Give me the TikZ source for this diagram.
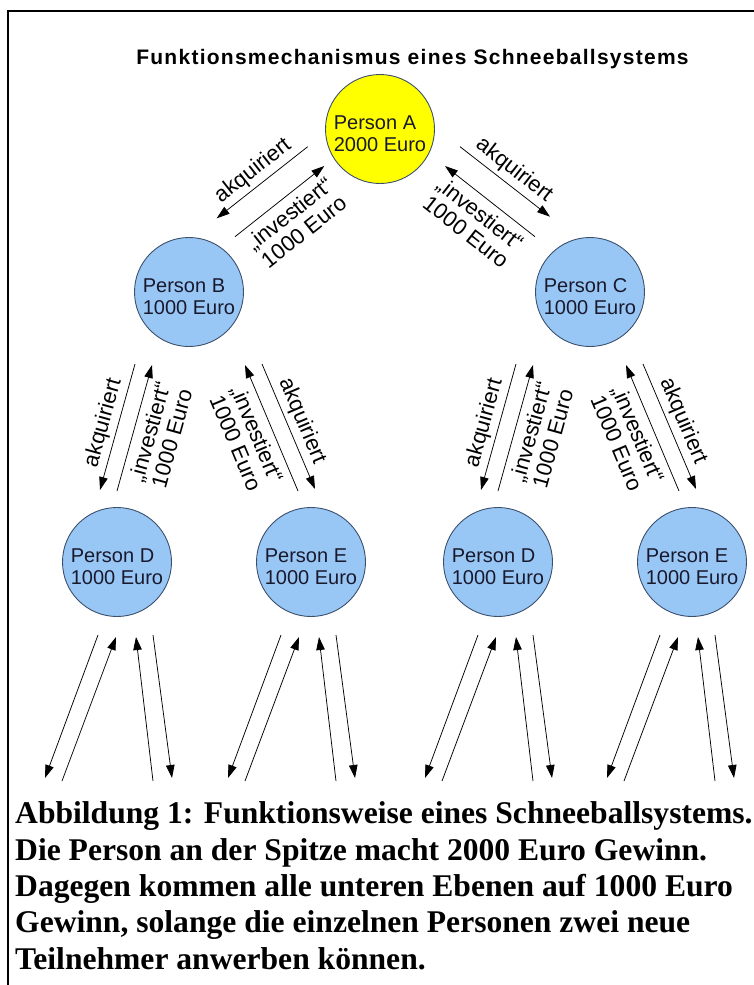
\documentclass[tikz,border=0pt]{standalone}
\usepackage{fontspec}
\setmainfont{Liberation Sans}
\newfontfamily\capfont{Liberation Serif}
\newfontfamily\titlefont[LetterSpace=6]{Liberation Sans}
\usetikzlibrary{arrows.meta}
\definecolor{pblue}{RGB}{153,199,245}
\definecolor{pyellow}{RGB}{255,255,0}
\definecolor{pedge}{RGB}{60,80,110}
\definecolor{ptext}{RGB}{25,25,45}
\tikzset{
  person/.style={circle, draw=pedge, line width=0.9pt, minimum size=109pt, inner sep=0pt,
    text=ptext, align=left, font=\fontsize{20pt}{22pt}\selectfont},
  arr/.style={draw=black, line width=0.75pt, -{Triangle[length=13pt,width=8.5pt]}},
  akq/.style={sloped, above, inner sep=4pt, font=\fontsize{22pt}{23pt}\selectfont},
  inv/.style={sloped, below, inner sep=7pt, align=center, font=\fontsize{22pt}{23pt}\selectfont},
  titlestyle/.style={anchor=base, inner sep=0pt, font=\titlefont\bfseries\fontsize{21pt}{24pt}\selectfont},
  capline/.style={anchor=base west, inner sep=0pt, font=\capfont\bfseries\fontsize{31.6pt}{36pt}\selectfont},
}
\begin{document}
\begin{tikzpicture}[x=1pt,y=-1pt]
\useasboundingbox (0,0) rectangle (754,985);
\fill[white] (0,0) rectangle (754,985);
\draw[line width=2.7pt] (756,11) -- (8,11) -- (8,987);

\node[titlestyle] (T) at (412.5,64.5) {Funktionsmechanismus eines Schneeballsystems};

% persons
\node[person, fill=pyellow] (A) at (380,129) {\rule{0pt}{24pt}Person A\\2000 Euro};
\node[person, fill=pblue] (B) at (189,292) {\rule{0pt}{24pt}Person B\\1000 Euro};
\node[person, fill=pblue] (C) at (590,292) {\rule{0pt}{24pt}Person C\\1000 Euro};
\node[person, fill=pblue] (D1) at (117,562) {\rule{0pt}{24pt}Person D\\1000 Euro};
\node[person, fill=pblue] (E1) at (311,562) {\rule{0pt}{24pt}Person E\\1000 Euro};
\node[person, fill=pblue] (D2) at (498,562) {\rule{0pt}{24pt}Person D\\1000 Euro};
\node[person, fill=pblue] (E2) at (692,562) {\rule{0pt}{24pt}Person E\\1000 Euro};

% level 1 connectors
\coordinate (ABks) at (307.7,146.7); \coordinate (ABke) at (216.7,218.3);
\coordinate (ABis) at (235,236.7);   \coordinate (ABie) at (324.3,166);
\coordinate (ACks) at (460,146.7);   \coordinate (ACke) at (550,216.7);
\coordinate (ACis) at (535,236.7);   \coordinate (ACie) at (445,166);
\draw[arr] (ABks) -- node[akq] {akquiriert} (ABke);
\draw[arr] (ABis) -- node[inv] {„investiert“\\1000 Euro} (ABie);
\draw[arr] (ACks) -- node[akq] {akquiriert} (ACke);
\draw[arr] (ACis) -- node[inv] {„investiert“\\1000 Euro} (ACie);

% level 2 connectors
\foreach \g/\dx in {B/0, C/381}{
  \coordinate (\g Dks) at (135+\dx,364); \coordinate (\g Dke) at (100+\dx,490);
  \coordinate (\g Dis) at (117+\dx,491); \coordinate (\g Die) at (152+\dx,365);
  \coordinate (\g Eis) at (298+\dx,491); \coordinate (\g Eie) at (245+\dx,365);
  \coordinate (\g Eks) at (262+\dx,364); \coordinate (\g Eke) at (315+\dx,489);
  \draw[arr] (\g Dks) -- node[akq] {akquiriert} (\g Dke);
  \draw[arr] (\g Dis) -- node[inv] {„investiert“\\1000 Euro} (\g Die);
  \draw[arr] (\g Eis) -- node[inv] {„investiert“\\1000 Euro} (\g Eie);
  \draw[arr] (\g Eks) -- node[akq] {akquiriert} (\g Eke);
}

% level 3 connectors
\foreach \n/\x in {1/45, 2/228, 3/425, 4/607}{
  \coordinate (g\n-1s) at (\x+53,635);  \coordinate (g\n-1e) at (\x,778);
  \coordinate (g\n-2s) at (\x+17,781);  \coordinate (g\n-2e) at (\x+71,637);
  \coordinate (g\n-3s) at (\x+108,781); \coordinate (g\n-3e) at (\x+91,637);
  \coordinate (g\n-4s) at (\x+108,635); \coordinate (g\n-4e) at (\x+127,778);
  \draw[arr] (g\n-1s) -- (g\n-1e);
  \draw[arr] (g\n-2s) -- (g\n-2e);
  \draw[arr] (g\n-3s) -- (g\n-3e);
  \draw[arr] (g\n-4s) -- (g\n-4e);
}

% caption
\node[capline] (cap1) at (15,823) {Abbildung 1: Funktionsweise eines Schneeballsystems.};
\node[capline] (cap2) at (15,860) {Die Person an der Spitze macht 2000 Euro Gewinn.};
\node[capline] (cap3) at (15,896) {Dagegen kommen alle unteren Ebenen auf 1000 Euro};
\node[capline] (cap4) at (15,932) {Gewinn, solange die einzelnen Personen zwei neue};
\node[capline] (cap5) at (15,969) {Teilnehmer anwerben können.};
\end{tikzpicture}
\end{document}
